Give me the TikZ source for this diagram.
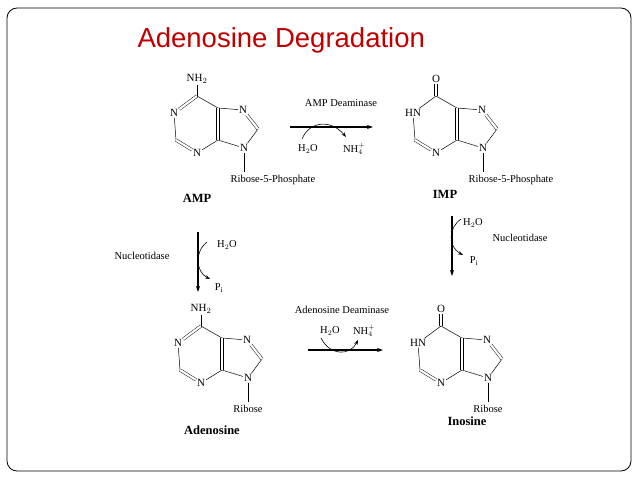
\documentclass[tikz,border=0pt]{standalone}
\usepackage{fontspec}
\setmainfont{Liberation Serif}
\newfontfamily\titlefont{Liberation Sans}
\usetikzlibrary{arrows.meta,calc}
\definecolor{titlered}{RGB}{192,0,0}
\tikzset{
  atom/.style={inner sep=1pt,font=\fontsize{11}{12}\selectfont},
  chem/.style={font=\fontsize{10.5}{12}\selectfont},
  molname/.style={font=\fontsize{12.5}{14}\selectfont\bfseries},
  bond/.style={line width=0.5pt},
  dbl/.style={double,double distance=2.2pt,line width=0.45pt},
  react/.style={line width=1.1pt,-{Stealth[length=6pt,width=4pt]}},
  side/.style={line width=0.6pt,-{Stealth[length=5pt,width=3.5pt]}}
}
% purine ring: prefix, C5 position, top group, N1 text, top bond, N1-C6 bond, sugar text, sugar anchor
\newcommand\purine[8]{%
\begin{scope}[shift={#2}]
\coordinate (#1c5) at (0,0);
\coordinate (#1c6) at (-21,-12);
\coordinate (#1c2) at (-42,32);
\coordinate (#1c4) at (0,32);
\coordinate (#1c8) at (40,21);
\coordinate (#1rib) at (26,64);
\node[atom] (#1top) at (-21,-29) {#3};
\node[atom] (#1n1) at (-44,5) {#4};
\node[atom] (#1n3) at (-21,45) {N};
\node[atom] (#1n7) at (25,2) {N};
\node[atom] (#1n9) at (26,40) {N};
\draw[bond,#5] (#1c6) -- (#1top);
\draw[bond,#6] (#1c6) -- (#1n1);
\draw[bond] (#1c6) -- (#1c5) -- (#1n7);
\draw[bond] (#1n1) -- (#1c2);
\draw[bond,dbl] (#1c2) -- (#1n3);
\draw[bond] (#1n3) -- (#1c4) -- (#1n9) -- (#1c8);
\draw[bond,dbl] (#1c5) -- (#1c4);
\draw[bond,dbl] (#1n7) -- (#1c8);
\draw[bond] (#1n9) -- (#1rib);
\node[chem,anchor=north,#8] (#1sugar) at (#1rib) {#7};
\end{scope}}
\begin{document}
\begin{tikzpicture}[x=1pt,y=-1pt]
\useasboundingbox (0,0) rectangle (638,479);
\draw[line width=0.8pt,rounded corners=10pt] (7,8) rectangle (631,471);
\node[anchor=west,text=titlered,font=\titlefont\fontsize{27.5}{30}\selectfont] (title) at (134,40) {Adenosine Degradation};

% molecules
\purine{amp}{(218,108)}{NH$_2$}{N}{}{dbl}{Ribose-5-Phosphate}{xshift=29}
\purine{imp}{(457,108)}{O}{HN}{dbl}{}{Ribose-5-Phosphate}{xshift=28}
\purine{ado}{(222,338)}{NH$_2$}{N}{}{dbl}{Ribose}{}
\purine{ino}{(462,338)}{O}{HN}{dbl}{}{Ribose}{}
\node[molname] (ampname) at (197,198) {AMP};
\node[molname] (impname) at (445,194) {IMP};
\node[molname] (adoname) at (212,430) {Adenosine};
\node[molname] (inoname) at (467,421) {Inosine};

% AMP -> IMP
\coordinate (a1) at (290,127);
\coordinate (a2) at (373,127);
\draw[react] (a1) -- (a2);
\node[chem] (amd) at (341,103) {AMP Deaminase};
\node[chem] (w1) at (308,149) {H$_2$O};
\node[chem] (nh1) at (354,149) {NH$_4^+$};
\draw[side] (302,139) .. controls (310,120) and (332,120) .. (346,137);

% AMP -> adenosine
\coordinate (b1) at (198,232);
\coordinate (b2) at (198,292);
\draw[react] (b1) -- (b2);
\node[chem] (nuc1) at (142,256) {Nucleotidase};
\node[chem] (w2) at (227,245) {H$_2$O};
\node[chem] (pi1) at (219,288) {P$_\mathrm{i}$};
\draw[side] (207,242) .. controls (194,252) and (196,272) .. (210,279);

% IMP -> inosine
\coordinate (c1) at (452,216);
\coordinate (c2) at (452,276);
\draw[react] (c1) -- (c2);
\node[chem] (w3) at (473,223) {H$_2$O};
\node[chem] (nuc2) at (520,238) {Nucleotidase};
\node[chem] (pi2) at (474,261) {P$_\mathrm{i}$};
\draw[side] (461,219) .. controls (448,228) and (448,247) .. (463,255);

% adenosine -> inosine
\coordinate (d1) at (308,350);
\coordinate (d2) at (383,350);
\draw[react] (d1) -- (d2);
\node[chem] (add) at (342,310) {Adenosine Deaminase};
\node[chem] (w4) at (330,331) {H$_2$O};
\node[chem] (nh2) at (364,331) {NH$_4^+$};
\draw[side] (321,338) .. controls (330,356) and (350,356) .. (358,340);
\end{tikzpicture}
\end{document}
